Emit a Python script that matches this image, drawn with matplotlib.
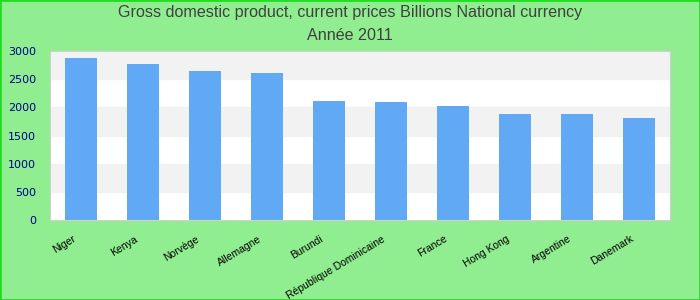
import matplotlib
matplotlib.use("Agg")
import matplotlib.pyplot as plt
import matplotlib.transforms as mtrans
from matplotlib.patches import Rectangle

countries = ["Niger", "Kenya", "Norvège", "Allemagne", "Burundi",
             "République Dominicaine", "France", "Hong Kong", "Argentine", "Danemark"]
values = [2875, 2770, 2645, 2610, 2115, 2095, 2025, 1885, 1885, 1810]
title = "Gross domestic product, current prices Billions National currency\nAnnée 2011"

fig = plt.figure(figsize=(7, 3), dpi=100, facecolor="#90ee90")
fig.patches.append(Rectangle((0, 0), 1, 1, transform=fig.transFigure,
                             fill=False, edgecolor="#22dd22", linewidth=2))
ax = fig.add_axes([50 / 700, 80 / 300, 620 / 700, 169 / 300])
ax.set_facecolor("white")

# bandes alternées
for lo in range(0, 3000, 500):
    if (lo // 500) % 2 == 1:
        ax.axhspan(lo, lo + 500, color="#f2f2f2", zorder=0)

x = range(len(countries))
ax.bar(x, values, width=0.52, color="#61a9f5", zorder=2)
ax.set_xlim(-0.5, len(countries) - 0.5)
ax.set_ylim(0, 3000)
ax.set_yticks(range(0, 3001, 500))
ax.tick_params(axis="y", colors="#00008b", labelsize=8, length=0, pad=10)
ax.tick_params(axis="x", length=0, pad=10)
ax.set_xticks(list(x))
ax.set_xticklabels(countries, rotation=31, ha="right", rotation_mode="anchor",
                   family="Liberation Sans", fontsize=7.5)
shift = mtrans.ScaledTranslation(-9 / 100, 0, fig.dpi_scale_trans)
for lab in ax.get_xticklabels():
    lab.set_transform(lab.get_transform() + shift)
for s in ax.spines.values():
    s.set_color("#d0d0d0")

fig.text(0.5, 0.985, title, ha="center", va="top", fontsize=11.6,
         family="Liberation Sans", color="#404040", linespacing=1.7)

fig.savefig("out.png", dpi=100, facecolor=fig.get_facecolor())
